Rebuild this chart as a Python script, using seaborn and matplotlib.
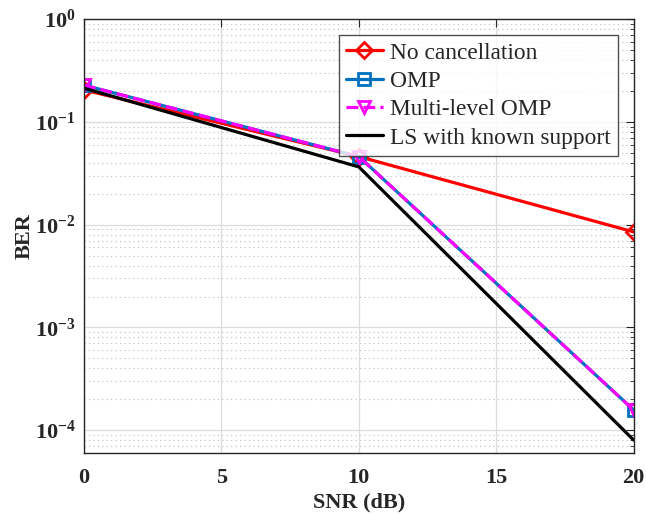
import matplotlib
matplotlib.use("Agg")
import matplotlib.pyplot as plt
import seaborn as sns
import pandas as pd
from matplotlib.ticker import LogLocator, NullFormatter, FuncFormatter
import numpy as np

snr = [0, 10, 20]
ber_none = [0.205, 0.046, 0.0085]
ber_omp = [0.228, 0.046, 1.57e-4]
ber_mlomp = [0.228, 0.046, 1.57e-4]
ber_ls = [0.213, 0.0365, 8.0e-5]

labels = ["No cancellation", "OMP", "Multi-level OMP", "LS with known support"]
series = [ber_none, ber_omp, ber_mlomp, ber_ls]
colors = ["#FF0000", "#0072BD", "#FF00FF", "#000000"]
markers = ["D", "s", "v", None]
styles = ["-", "-", "--", "-"]

sns.set_style("white")
plt.rcParams["font.family"] = ["Liberation Serif", "DejaVu Serif"]
plt.rcParams["mathtext.fontset"] = "custom"
plt.rcParams["mathtext.rm"] = "Liberation Serif"
plt.rcParams["mathtext.bf"] = "Liberation Serif:bold"
plt.rcParams["mathtext.it"] = "Liberation Serif:italic"

fig = plt.figure(figsize=(6.46, 5.14), dpi=100)
ax = fig.add_axes([0.130, 0.1187, 0.851, 0.844])

for lab, ys, c, m, ls in zip(labels, series, colors, markers, styles):
    df = pd.DataFrame({"SNR": snr, "BER": ys})
    sns.lineplot(data=df, x="SNR", y="BER", ax=ax, color=c, linewidth=2.3,
                 linestyle=ls, marker=m, markersize=9 if m != "D" else 8,
                 markerfacecolor="none", markeredgecolor=c, markeredgewidth=2,
                 label=lab)

ax.set_yscale("log")
ax.set_xlim(0, 20)
ax.set_ylim(6.0e-5, 1)
ax.set_xticks([0, 5, 10, 15, 20])
ax.yaxis.set_major_locator(LogLocator(base=10, numticks=10))
ax.yaxis.set_major_formatter(FuncFormatter(
    lambda v, p: r"$\mathbf{10^{%d}}$" % int(round(np.log10(v)))))
ax.yaxis.set_minor_locator(LogLocator(base=10, subs=range(2, 10), numticks=20))
ax.yaxis.set_minor_formatter(NullFormatter())

ax.grid(True, which="major", color="#DCDCDC", linewidth=0.9, linestyle="-")
ax.grid(True, which="minor", axis="y", color="#BBBBBB", linewidth=0.8, linestyle=(0, (1, 3)))
ax.set_axisbelow(True)

for sp in ax.spines.values():
    sp.set_color("#262626")
    sp.set_linewidth(1.0)
ax.tick_params(axis="both", which="both", direction="in", top=True, right=True,
               colors="#262626")
ax.tick_params(axis="both", which="major", length=6, labelsize=16)
ax.tick_params(axis="x", which="major", pad=11)
ax.tick_params(axis="y", which="major", pad=6)
ax.tick_params(axis="both", which="minor", length=3)
for t in ax.get_xticklabels() + ax.get_yticklabels():
    t.set_fontweight("bold")

ax.set_xlabel("SNR (dB)", fontsize=16, fontweight="bold", labelpad=3)
ax.set_ylabel("BER", fontsize=16, fontweight="bold", labelpad=0.5)

leg = ax.legend(loc="upper right", bbox_to_anchor=(0.971, 0.963), fontsize=16.8,
                frameon=True, fancybox=False, edgecolor="#262626",
                handlelength=1.6, handletextpad=0.3, borderpad=0.3,
                labelspacing=0.3, borderaxespad=0)
leg.get_frame().set_linewidth(1.0)

fig.savefig("out.png", dpi=100)
